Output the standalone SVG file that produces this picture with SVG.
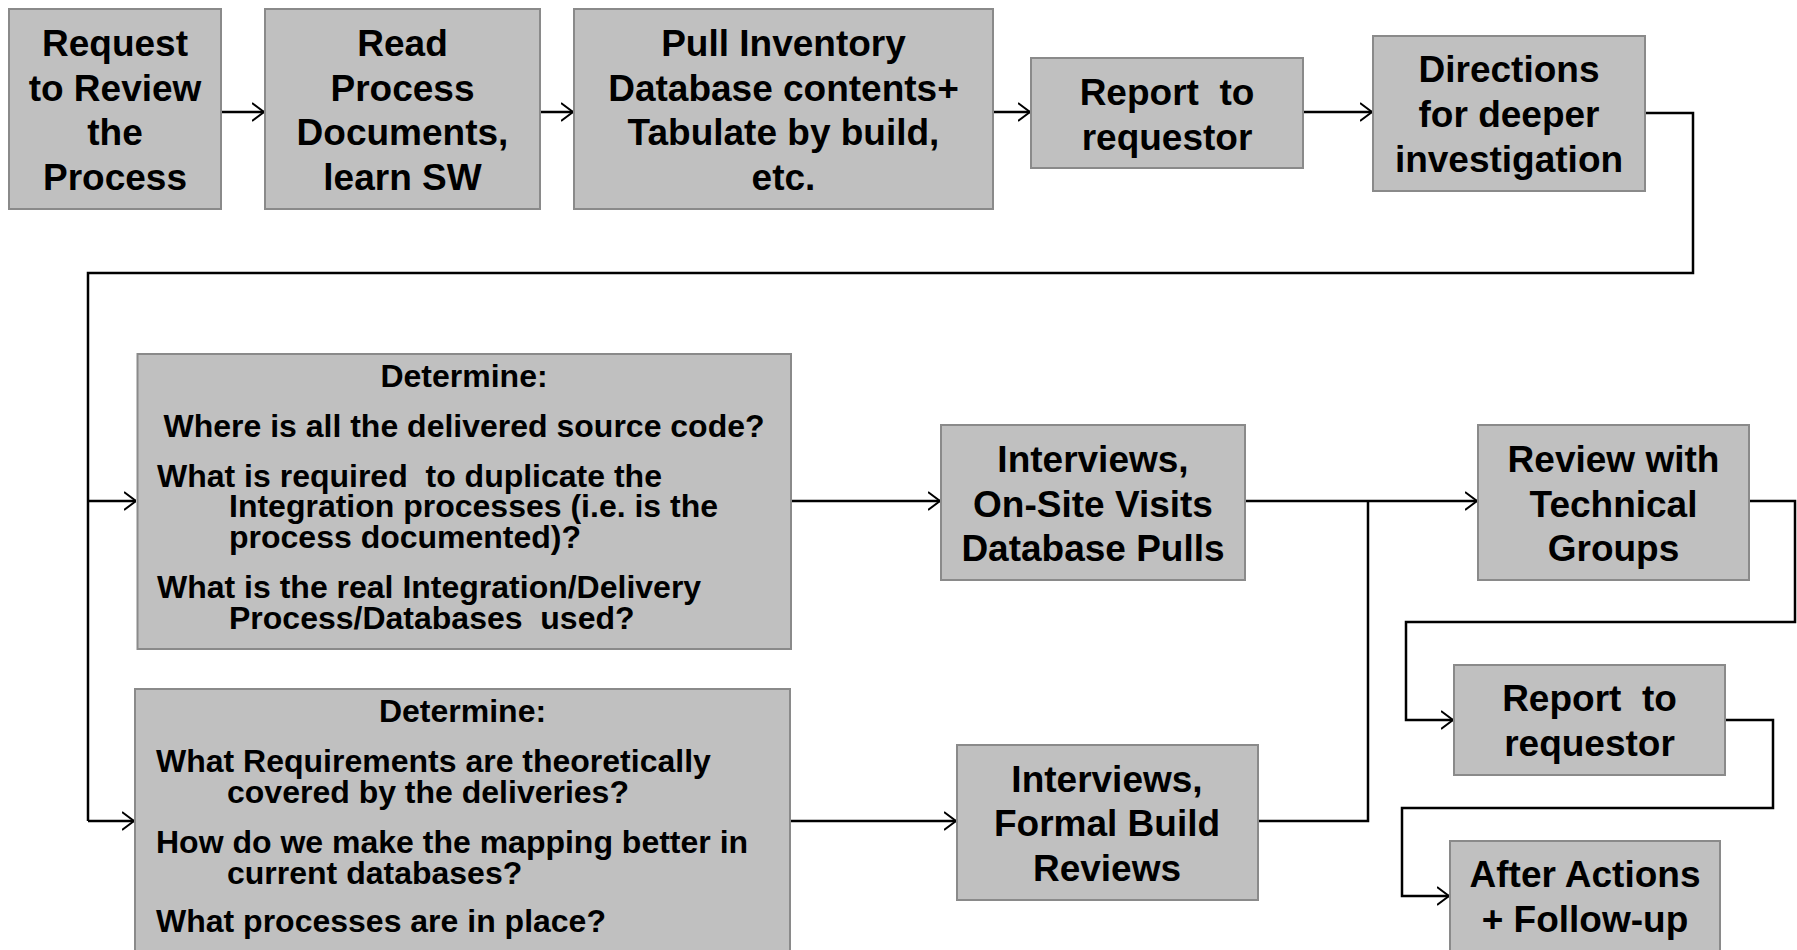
<svg xmlns="http://www.w3.org/2000/svg" width="1797" height="950" viewBox="0 0 1797 950">
<defs>
<style>
.box{fill:#c0c0c0;stroke:#8a8a8a;stroke-width:2}
.big{font-family:"Liberation Sans",Arial,sans-serif;font-weight:bold;font-size:37px;fill:#000;text-anchor:middle}
.sm{font-family:"Liberation Sans",Arial,sans-serif;font-weight:bold;font-size:32px;fill:#000}
.c{text-anchor:middle}
.ln{fill:none;stroke:#000;stroke-width:2.5}
</style>
<marker id="ah" markerUnits="userSpaceOnUse" viewBox="0 0 12 20" refX="12" refY="10" markerWidth="12" markerHeight="20" orient="auto">
<path d="M0,1 L12,10 L0,19" fill="none" stroke="#000" stroke-width="2"/>
</marker>
</defs>
<rect width="1797" height="950" fill="#fff"/>
<g id="connectors">
<path class="ln" d="M221,112 H264" marker-end="url(#ah)"/>
<path class="ln" d="M540,112 H573" marker-end="url(#ah)"/>
<path class="ln" d="M993,112 H1030" marker-end="url(#ah)"/>
<path class="ln" d="M1303,112 H1372" marker-end="url(#ah)"/>
<path class="ln" d="M1645,113 H1693 V273 H88 V821"/>
<path class="ln" d="M88,501 H136" marker-end="url(#ah)"/>
<path class="ln" d="M88,821 H134" marker-end="url(#ah)"/>
<path class="ln" d="M791,501 H940" marker-end="url(#ah)"/>
<path class="ln" d="M790,821 H956" marker-end="url(#ah)"/>
<path class="ln" d="M1245,501 H1477" marker-end="url(#ah)"/>
<path class="ln" d="M1258,821 H1368 V501"/>
<path class="ln" d="M1749,501 H1795 V622 H1406 V720 H1453" marker-end="url(#ah)"/>
<path class="ln" d="M1725,720 H1773 V808 H1402 V896 H1449" marker-end="url(#ah)"/>
</g>
<g id="n1">
<rect class="box" x="9" y="9" width="212" height="200"/>
<text class="big"><tspan x="115" y="56">Request</tspan><tspan x="115" y="101">to Review</tspan><tspan x="115" y="145">the</tspan><tspan x="115" y="190">Process</tspan></text>
</g>
<g id="n2">
<rect class="box" x="265" y="9" width="275" height="200"/>
<text class="big"><tspan x="402.5" y="56">Read</tspan><tspan x="402.5" y="101">Process</tspan><tspan x="402.5" y="145">Documents,</tspan><tspan x="402.5" y="190">learn SW</tspan></text>
</g>
<g id="n3">
<rect class="box" x="574" y="9" width="419" height="200"/>
<text class="big"><tspan x="783.5" y="56">Pull Inventory</tspan><tspan x="783.5" y="101">Database contents+</tspan><tspan x="783.5" y="145">Tabulate by build,</tspan><tspan x="783.5" y="190">etc.</tspan></text>
</g>
<g id="n4">
<rect class="box" x="1031" y="58" width="272" height="110"/>
<text class="big" xml:space="preserve"><tspan x="1167" y="105">Report  to</tspan><tspan x="1167" y="150">requestor</tspan></text>
</g>
<g id="n5">
<rect class="box" x="1373" y="36" width="272" height="155"/>
<text class="big"><tspan x="1509" y="82">Directions</tspan><tspan x="1509" y="127">for deeper</tspan><tspan x="1509" y="172">investigation</tspan></text>
</g>
<g id="n6">
<rect class="box" x="137.5" y="354" width="653.5" height="295"/>
<text class="sm" xml:space="preserve"><tspan class="c" x="464" y="387">Determine:</tspan><tspan class="c" x="464" y="437">Where is all the delivered source code?</tspan><tspan x="157" y="487">What is required  to duplicate the</tspan><tspan x="229" y="517">Integration processes (i.e. is the</tspan><tspan x="229" y="548">process documented)?</tspan><tspan x="157" y="598">What is the real Integration/Delivery</tspan><tspan x="229" y="629">Process/Databases  used?</tspan></text>
</g>
<g id="n7">
<rect class="box" x="135" y="689" width="655" height="270"/>
<text class="sm"><tspan class="c" x="462.5" y="722">Determine:</tspan><tspan x="156" y="772">What Requirements are theoretically</tspan><tspan x="227" y="803">covered by the deliveries?</tspan><tspan x="156" y="853">How do we make the mapping better in</tspan><tspan x="227" y="884">current databases?</tspan><tspan x="156" y="932">What processes are in place?</tspan></text>
</g>
<g id="n8">
<rect class="box" x="941" y="425" width="304" height="155"/>
<text class="big"><tspan x="1093" y="472">Interviews,</tspan><tspan x="1093" y="517">On-Site Visits</tspan><tspan x="1093" y="561">Database Pulls</tspan></text>
</g>
<g id="n9">
<rect class="box" x="957" y="745" width="301" height="155"/>
<text class="big"><tspan x="1107" y="792">Interviews,</tspan><tspan x="1107" y="836">Formal Build</tspan><tspan x="1107" y="881">Reviews</tspan></text>
</g>
<g id="n10">
<rect class="box" x="1478" y="425" width="271" height="155"/>
<text class="big"><tspan x="1613.5" y="472">Review with</tspan><tspan x="1613.5" y="517">Technical</tspan><tspan x="1613.5" y="561">Groups</tspan></text>
</g>
<g id="n11">
<rect class="box" x="1454" y="665" width="271" height="110"/>
<text class="big" xml:space="preserve"><tspan x="1589.5" y="711">Report  to</tspan><tspan x="1589.5" y="756">requestor</tspan></text>
</g>
<g id="n12">
<rect class="box" x="1450" y="841" width="270" height="120"/>
<text class="big"><tspan x="1585" y="887">After Actions</tspan><tspan x="1585" y="932">+ Follow-up</tspan></text>
</g>
</svg>
